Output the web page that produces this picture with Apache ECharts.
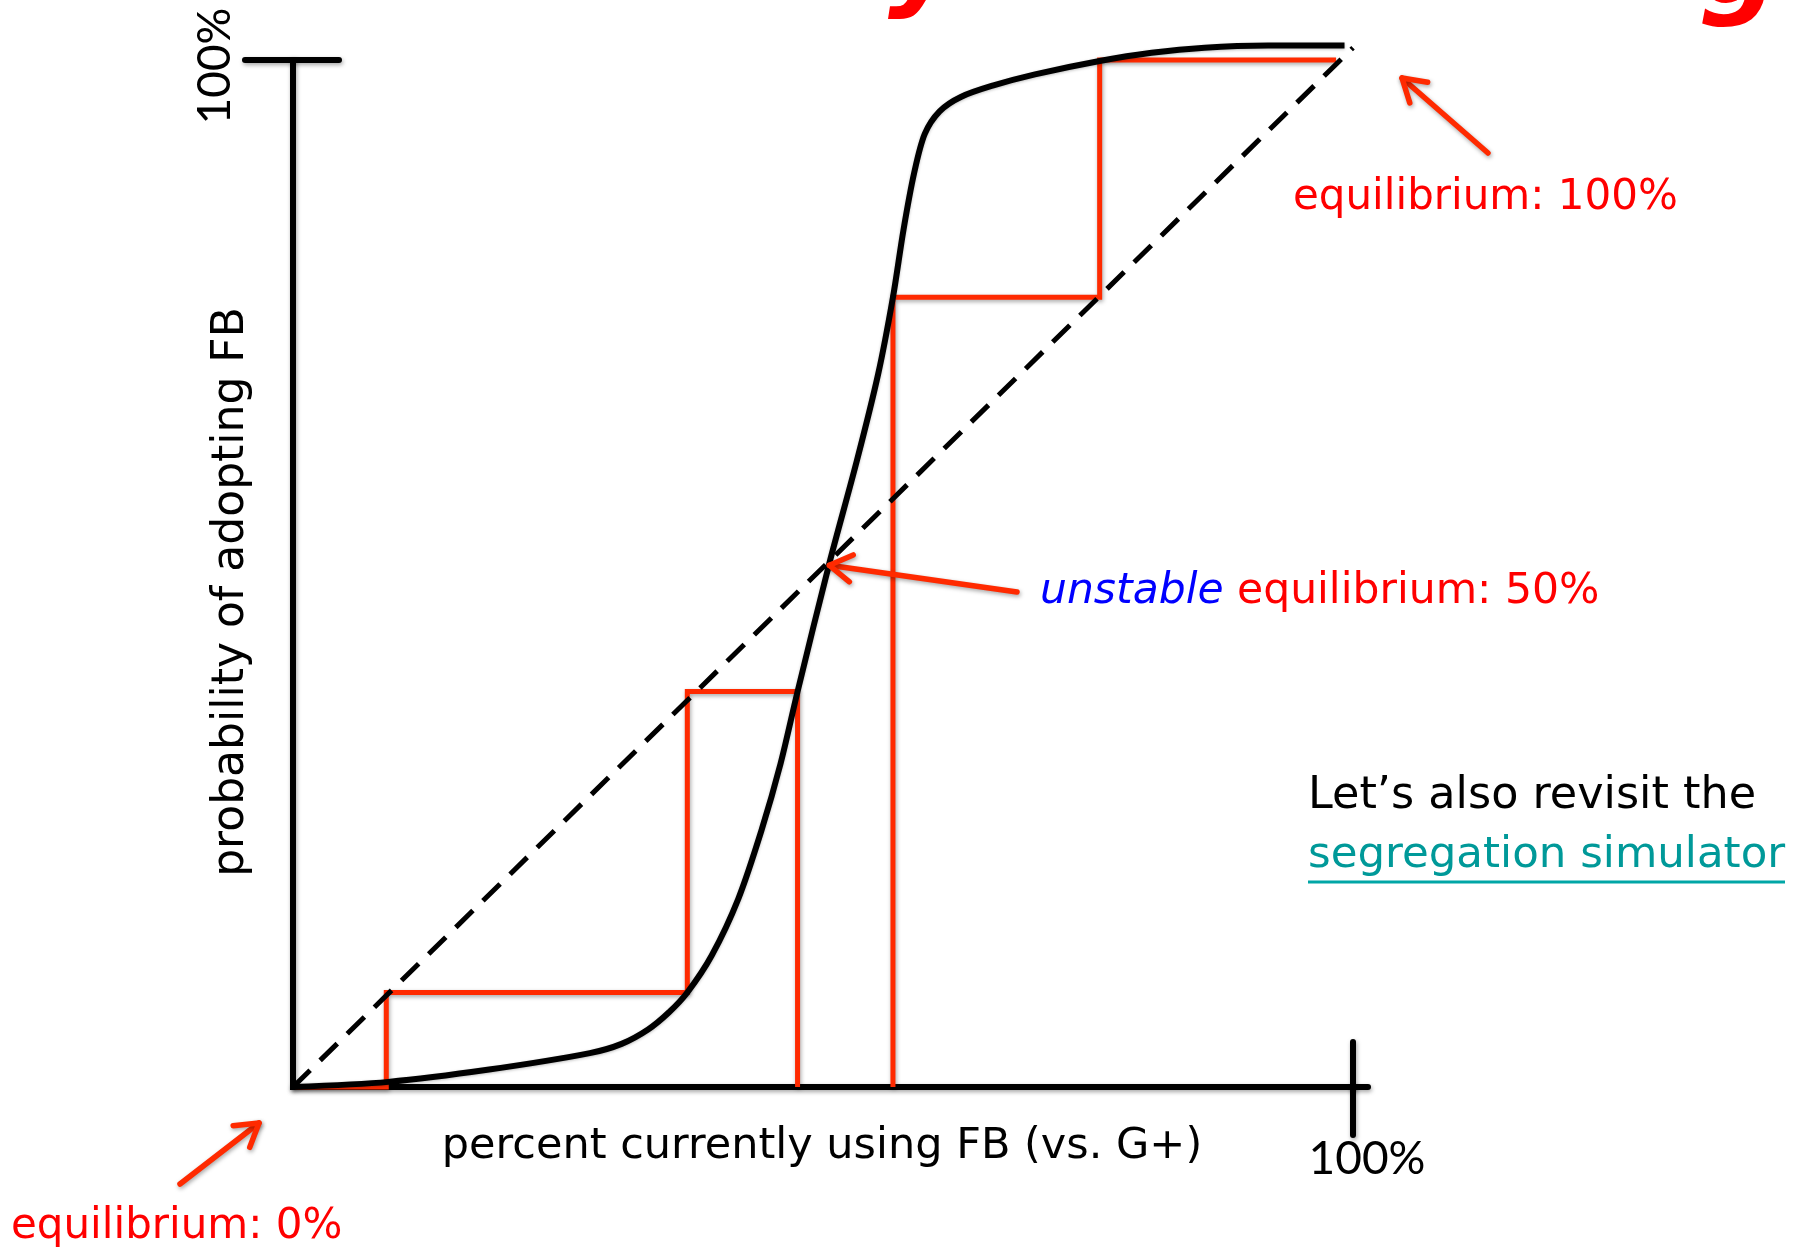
<!DOCTYPE html>
<html>
<head>
<meta charset="utf-8">
<script src="https://cdn.jsdelivr.net/npm/echarts@6/dist/echarts.min.js"></script>
<style>
html,body{margin:0;padding:0;background:#ffffff;}
#c{width:1802px;height:1251px;}
</style>
</head>
<body>
<div id="c"></div>
<script>
// ---- data (percent units) ----
const curveX = [0, 9, 18.5, 28, 31, 33.5, 35.5, 37.2, 39.5, 42, 44.2, 46, 47.6, 50.6, 53.2, 55.2, 56.6, 57.6, 58.6, 59.6, 61, 63, 66, 70, 76.1, 81, 86, 92, 99.2];
const curveY = [0, 0.5, 1.7, 3.3, 4.2, 5.6, 7.3, 9.2, 12.8, 18.3, 25, 31.5, 38.5, 51, 61, 69.4, 76.9, 83.5, 89, 92.8, 95, 96.4, 97.5, 98.6, 99.9, 100.7, 101.2, 101.4, 101.4];
const diagonalX = [0, 100];
const diagonalY = [0, 101.2];
const lowPathX = [47.6, 47.6, 37.2, 37.2, 8.8, 8.8, 0.2];
const lowPathY = [0, 38.5, 38.5, 9.2, 9.2, 0, 0];
const highPathX = [56.6, 56.6, 76.1, 76.1, 98.4];
const highPathY = [0, 76.9, 76.9, 100, 100];
const unstablePoint = [50.6, 50.8];
const xTickLabel = '100%';
const yTickLabel = '100%';
const xTitle = 'percent currently using FB (vs. G+)';
const yTitle = 'probability of adopting FB';
const labelTop = 'equilibrium: 100%';
const labelMidA = 'unstable';
const labelMidB = 'equilibrium: 50%';
const labelBottom = 'equilibrium: 0%';
const noteLine1 = 'Let\u2019s also revisit the';
const noteLine2 = 'segregation simulator';

function zip(xs, ys) { return xs.map((x, i) => [x, ys[i]]); }

const BLACK = '#000000';
const ORANGE = '#FF2A00';
const SH = { shadowColor: 'rgba(0,0,0,0.35)', shadowBlur: 4, shadowOffsetY: 2, shadowOffsetX: 1 };
const FONT = '"DejaVu Sans", sans-serif';

const chart = echarts.init(document.getElementById('c'), null, { renderer: 'canvas' });

const axisCommon = {
  type: 'value', min: 0, max: 100,
  axisLine: { show: true, lineStyle: Object.assign({ color: BLACK, width: 6, cap: 'square' }, SH) },
  axisTick: { show: false }, axisLabel: { show: false }, splitLine: { show: false }
};

chart.setOption({
  animation: false,
  backgroundColor: '#ffffff',
  grid: { left: 293, top: 60, width: 1060, height: 1027, outerBoundsMode: 'none', containLabel: false },
  xAxis: Object.assign({}, axisCommon),
  yAxis: Object.assign({}, axisCommon),
  series: [
    { name: 'low path', type: 'line', data: zip(lowPathX, lowPathY), symbol: 'none', clip: false,
      lineStyle: Object.assign({ color: ORANGE, width: 5, join: 'miter' }, SH), z: 3 },
    { name: 'high path', type: 'line', data: zip(highPathX, highPathY), symbol: 'none', clip: false,
      lineStyle: Object.assign({ color: ORANGE, width: 5, join: 'miter' }, SH), z: 3 },
    { name: 'adoption curve', type: 'line', data: zip(curveX, curveY), symbol: 'none', clip: false,
      smooth: 0.3,
      lineStyle: { color: BLACK, width: 6, shadowColor: 'rgba(0,0,0,0.25)', shadowBlur: 3, shadowOffsetY: 1 }, z: 4 },
    { name: 'diagonal', type: 'line', data: zip(diagonalX, diagonalY), symbol: 'none', clip: false,
      lineStyle: { color: BLACK, width: 5, type: [24, 14] }, z: 5 }
  ]
});

const xe = chart.convertToPixel({ gridIndex: 0 }, [100, 0]);
const ye = chart.convertToPixel({ gridIndex: 0 }, [0, 100]);
const up = chart.convertToPixel({ gridIndex: 0 }, unstablePoint);

function lineEl(x1, y1, x2, y2, color, w, extra) {
  return Object.assign({ type: 'line', shape: { x1, y1, x2, y2 },
    style: Object.assign({ stroke: color, lineWidth: w, lineCap: 'round' }, SH) }, extra || {});
}
function arrowEls(x1, y1, x2, y2) {
  const ang = Math.atan2(y2 - y1, x2 - x1), L = 26, a = 0.55;
  const p1 = [x2 - L * Math.cos(ang - a), y2 - L * Math.sin(ang - a)];
  const p2 = [x2 - L * Math.cos(ang + a), y2 - L * Math.sin(ang + a)];
  return [
    lineEl(x1, y1, x2, y2, ORANGE, 5.5, { z: 20 }),
    { type: 'polyline', z: 20, shape: { points: [p1, [x2, y2], p2] },
      style: Object.assign({ stroke: ORANGE, lineWidth: 5.5, lineCap: 'round', lineJoin: 'round', fill: null }, SH) }
  ];
}
function textEl(text, x, y, font, fill, align, extra) {
  return Object.assign({ type: 'text', x, y, z: 30,
    style: { text, font, fill, align: align || 'left', verticalAlign: 'middle' } }, extra || {});
}

const els = [
  // axis ends / ticks
  lineEl(ye[0] - 48, ye[1], ye[0] + 46, ye[1], BLACK, 6, { z: 10 }),
  lineEl(xe[0], xe[1] - 45, xe[0], xe[1] + 48, BLACK, 6, { z: 10 }),
  lineEl(xe[0], xe[1], xe[0] + 15, xe[1], BLACK, 6, { z: 10 }),
  // tick labels
  textEl(xTickLabel, xe[0] + 14, xe[1] + 72, '46px Lato, sans-serif', BLACK, 'center'),
  textEl(yTickLabel, ye[0] - 78, ye[1] + 6, '46px Lato, sans-serif', BLACK, 'center', { rotation: Math.PI / 2 }),
  // axis titles
  textEl(xTitle, 822, 1147, '43px ' + FONT, BLACK, 'center'),
  textEl(yTitle, 232, 592, '44px ' + FONT, BLACK, 'center', { rotation: Math.PI / 2 }),
  // annotations
  textEl(labelTop, 1293, 198, '42px ' + FONT, '#FF0000', 'left'),
  { type: 'text', x: 1040, y: 592, z: 30, style: {
      text: '{u|' + labelMidA + '} {r|' + labelMidB + '}', font: '42px ' + FONT, fill: '#FF0000',
      align: 'left', verticalAlign: 'middle',
      rich: { u: { fill: '#0000FF', font: 'italic 42.5px ' + FONT }, r: { fill: '#FF0000', font: '42.5px ' + FONT } } } },
  textEl(labelBottom, 11, 1227, '42px ' + FONT, '#FF0000', 'left'),
  textEl(noteLine1, 1308, 796, '44.5px ' + FONT, BLACK, 'left'),
  textEl(noteLine2, 1308, 856, '43.5px ' + FONT, '#009999', 'left'),
  { type: 'line', z: 30, shape: { x1: 1308, y1: 882, x2: 1785, y2: 882 }, style: { stroke: '#00A6A6', lineWidth: 3 } },
  // clipped slide title (only descenders visible)
  textEl('y', 888, -34, 'italic bold 110px ' + FONT, '#FF0000', 'left'),
  textEl('g', 1700, -26, 'italic bold 110px ' + FONT, '#FF0000', 'left')
];
arrowEls(1488, 153, 1402, 78).forEach(e => els.push(e));
arrowEls(1017, 592, up[0], up[1]).forEach(e => els.push(e));
arrowEls(180, 1184, 259, 1123).forEach(e => els.push(e));

chart.setOption({ graphic: { elements: els } });
</script>
</body>
</html>
